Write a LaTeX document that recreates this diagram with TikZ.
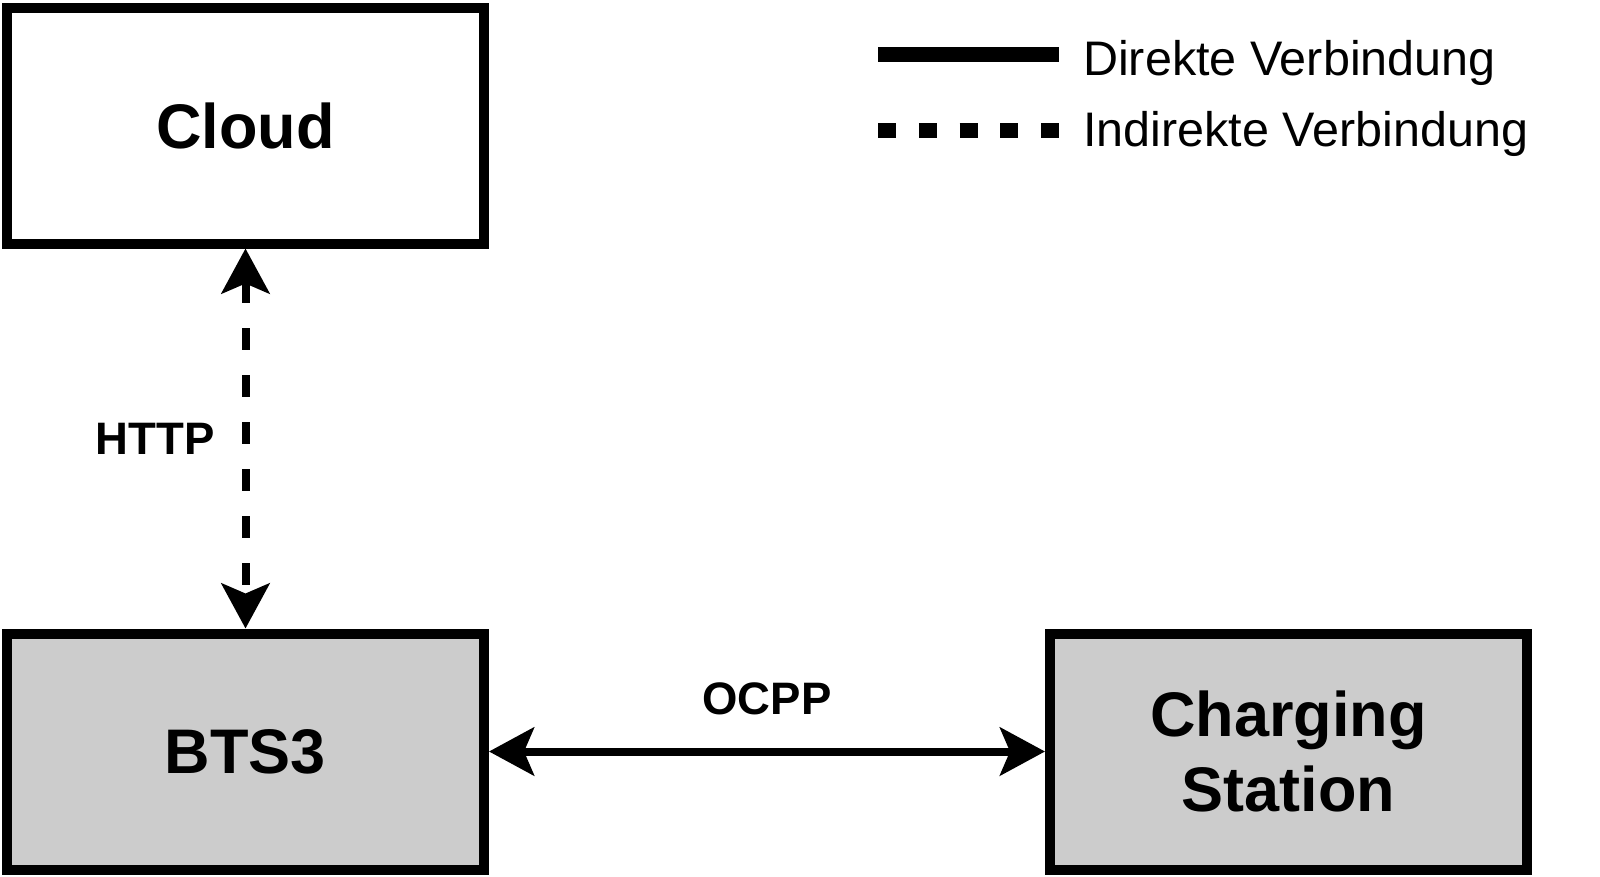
\documentclass[tikz,border=0pt]{standalone}
\usepackage{fontspec}
\setmainfont{Liberation Sans}
\usepackage{xcolor}
\usepackage{tikz}
\usetikzlibrary{positioning,arrows.meta}

\definecolor{boxgray}{HTML}{CCCCCC}
\tikzset{
  block/.style={draw, line width=10pt, minimum width=477pt, minimum height=236pt,
    align=center, font=\fontsize{63}{75}\selectfont\bfseries},
  conn/.style={line width=8pt,
    {Stealth[length=45pt,width=48pt,inset=10pt]}-{Stealth[length=45pt,width=48pt,inset=10pt]}},
  proto/.style={inner sep=0pt, font=\fontsize{45.5}{54}\selectfont\bfseries},
  legtext/.style={inner sep=0pt, anchor=base west, font=\fontsize{48.5}{58}\selectfont}
}

\begin{document}
\begin{tikzpicture}[x=1pt,y=-1pt]
\useasboundingbox (0,0) rectangle (1600,876);
      \node[block, fill=white] (cloud) at (245.5,125.5) {Cloud};
      \node[block, fill=boxgray, below=380pt of cloud] (bts) {BTS3};
      \node[block, fill=boxgray, right=556pt of bts] (station) {Charging\\Station};
          \draw[conn, dash pattern=on 22pt off 25pt] (cloud) -- node[proto, left=27pt] (http) {HTTP} (bts);
          \draw[conn] (bts) -- node[proto, above=33pt] (ocpp) {OCPP} (station);
      % legend
      \coordinate (solidA) at (878,54);
      \coordinate (solidB) at (1059,54);
      \coordinate (dotA) at (878,130);
      \coordinate (dotB) at (1059,130);
          \draw[line width=15pt] (solidA) -- (solidB);
          \draw[line width=15pt, dash pattern=on 18pt off 22.75pt] (dotA) -- (dotB);
      \node[legtext] (direct) at (1083,75) {Direkte Verbindung};
      \node[legtext] (indirect) at (1083,146) {Indirekte Verbindung};
\end{tikzpicture}
\end{document}
